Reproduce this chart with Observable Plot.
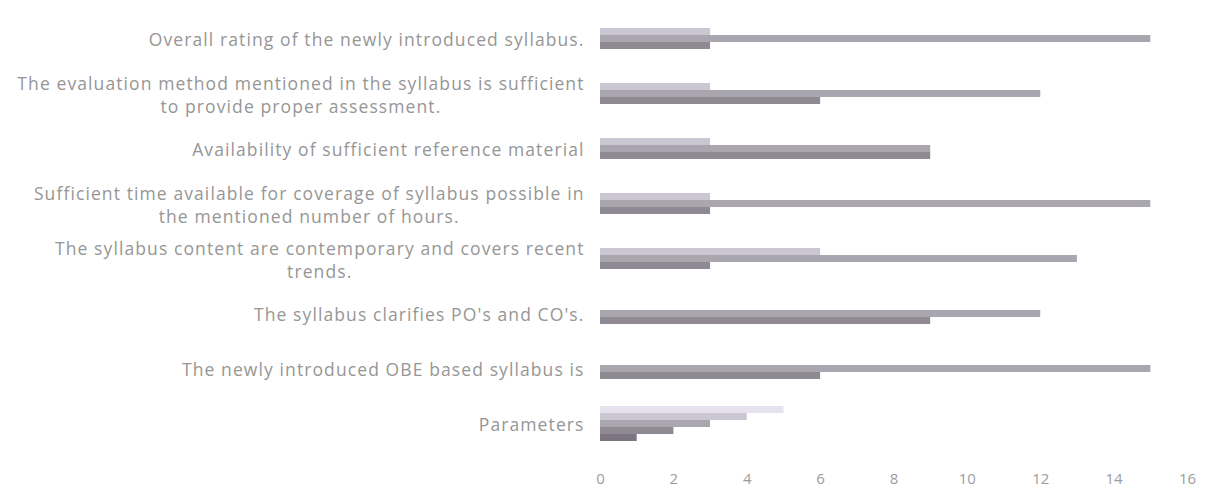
<!DOCTYPE html>
<html>
<head>
<meta charset="utf-8">
<script src="https://cdn.jsdelivr.net/npm/d3@7"></script>
<script src="https://cdn.jsdelivr.net/npm/@observablehq/plot@0.6"></script>
<style>
  html, body { margin: 0; padding: 0; background: #fff; }
  #chart { width: 1209px; height: 494px; }
  #chart g[aria-label="text"] text { letter-spacing: 1.1px; }
</style>
</head>
<body>
<div id="chart"></div>
<script>
// Categories, top to bottom (line breaks as wrapped in the original)
const categories = [
  "Overall rating of the newly introduced syllabus.",
  "The evaluation method mentioned in the syllabus is sufficient\nto provide proper assessment.",
  "Availability of sufficient reference material",
  "Sufficient time available for coverage of syllabus possible in\nthe mentioned number of hours.",
  "The syllabus content are contemporary and covers recent\ntrends.",
  "The syllabus clarifies PO's and CO's.",
  "The newly introduced OBE based syllabus is",
  "Parameters"
];
// Series (rating columns), drawn top to bottom within each group
const seriesNames = ["5", "4", "3", "2", "1"];
const series5 = [0, 0, 0, 0, 0, 0, 0, 5];
const series4 = [3, 3, 3, 3, 6, 0, 0, 4];
const series3 = [15, 12, 9, 15, 13, 12, 15, 3];
const series2 = [3, 6, 9, 3, 3, 9, 6, 2];
const series1 = [0, 0, 0, 0, 0, 0, 0, 1];
const xTicks = [0, 2, 4, 6, 8, 10, 12, 14, 16];

const seriesValues = [series5, series4, series3, series2, series1];
const table = [];
categories.forEach((c, i) => {
  seriesNames.forEach((s, j) => {
    table.push({category: c, series: s, value: seriesValues[j][i]});
  });
});

const fontFamily = "'Open Sans', Lato, sans-serif";
const labelSize = 17.5;
const spacing = 1.1;
const ctx = document.createElement("canvas").getContext("2d");
ctx.font = `${labelSize}px 'Open Sans'`;
function maxLineWidth(t) {
  return Math.max(...t.split("\n").map(l => ctx.measureText(l).width + l.length * spacing));
}

const labelMarks = categories.map(c =>
  Plot.text([c], {
    fy: d => d,
    text: d => d,
    frameAnchor: "left",
    textAnchor: "middle",
    dx: -(16 + maxLineWidth(c) / 2),
    fill: "#969696",
    fontSize: labelSize,
    lineHeight: 1.3
  })
);

const chart = Plot.plot({
  width: 1209,
  height: 494,
  marginLeft: 600,
  marginRight: 22,
  marginTop: 9,
  marginBottom: 42,
  style: {fontFamily, background: "#fff"},
  x: {domain: [0, 16], ticks: xTicks, tickSize: 0, tickPadding: 30, label: null, line: false},
  y: {domain: seriesNames, axis: null, paddingInner: 0, paddingOuter: 0},
  fy: {domain: categories, axis: null, paddingInner: 0.3, paddingOuter: 0.15},
  color: {domain: seriesNames, range: ["#e6e2ee", "#cbc7d2", "#aaa6af", "#8f8993", "#7c7581"]},
  marks: [
    Plot.axisX({ticks: xTicks, tickSize: 0, tickPadding: 30, fill: "#9d9d9d", fontSize: 15, label: null, facetAnchor: "bottom"}),
    Plot.barX(table, {fy: "category", y: "series", x: "value", fill: "series", inset: 0}),
    ...labelMarks
  ]
});
document.getElementById("chart").appendChild(chart);
</script>
</body>
</html>
